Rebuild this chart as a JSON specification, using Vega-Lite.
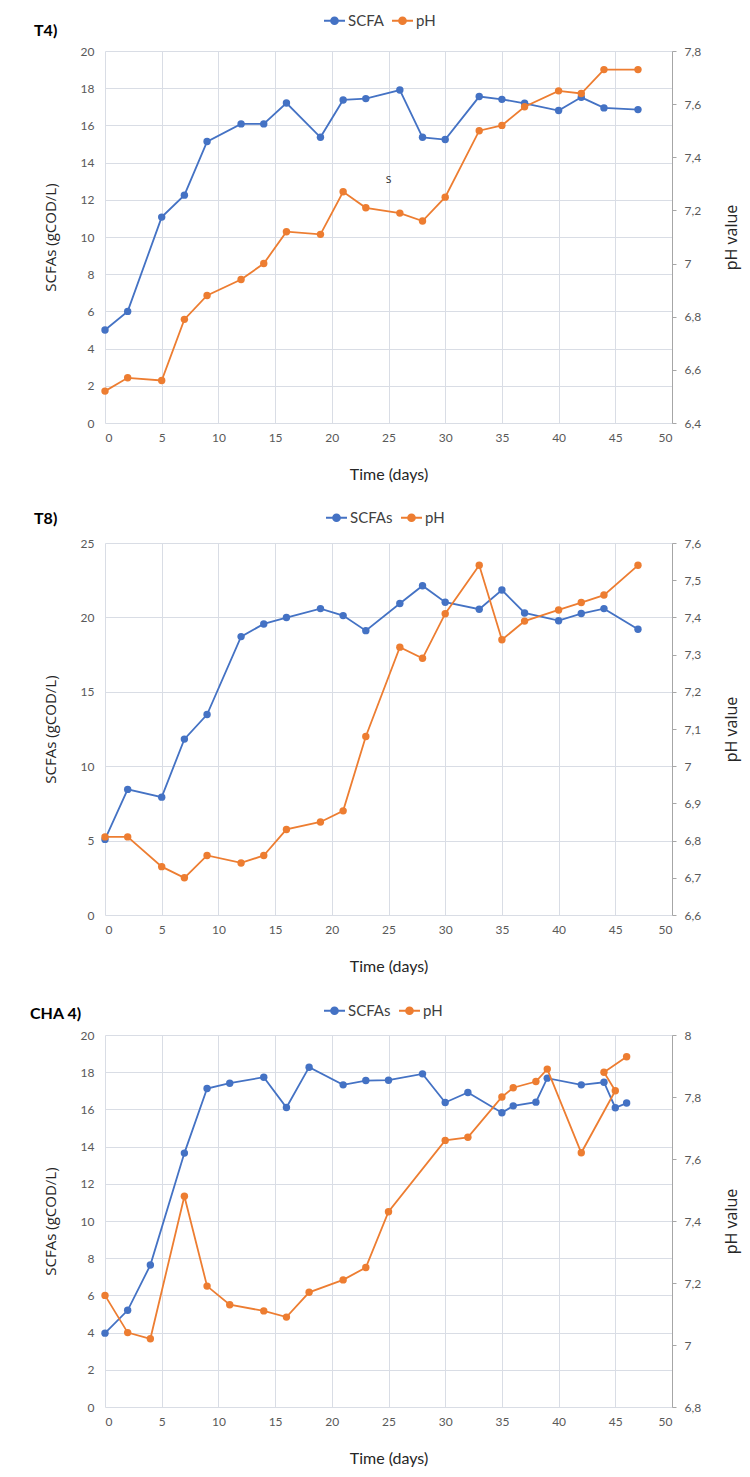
{
  "$schema": "https://vega.github.io/schema/vega-lite/v6.json",
  "background": "white",
  "padding": {"top": 9, "left": 30, "right": 10, "bottom": 10},
  "datasets": {
    "t4_scfa": [
      {"day": 0, "scfa": 5.0}, {"day": 2, "scfa": 6.0}, {"day": 5, "scfa": 11.07}, {"day": 7, "scfa": 12.25},
      {"day": 9, "scfa": 15.13}, {"day": 12, "scfa": 16.08}, {"day": 14, "scfa": 16.08}, {"day": 16, "scfa": 17.2},
      {"day": 19, "scfa": 15.36}, {"day": 21, "scfa": 17.37}, {"day": 23, "scfa": 17.44}, {"day": 26, "scfa": 17.9},
      {"day": 28, "scfa": 15.36}, {"day": 30, "scfa": 15.24}, {"day": 33, "scfa": 17.55}, {"day": 35, "scfa": 17.4},
      {"day": 37, "scfa": 17.19}, {"day": 40, "scfa": 16.8}, {"day": 42, "scfa": 17.51}, {"day": 44, "scfa": 16.94},
      {"day": 47, "scfa": 16.85}
    ],
    "t4_ph": [
      {"day": 0, "ph": 6.52}, {"day": 2, "ph": 6.57}, {"day": 5, "ph": 6.56}, {"day": 7, "ph": 6.79},
      {"day": 9, "ph": 6.88}, {"day": 12, "ph": 6.94}, {"day": 14, "ph": 7.0}, {"day": 16, "ph": 7.12},
      {"day": 19, "ph": 7.11}, {"day": 21, "ph": 7.27}, {"day": 23, "ph": 7.21}, {"day": 26, "ph": 7.19},
      {"day": 28, "ph": 7.16}, {"day": 30, "ph": 7.25}, {"day": 33, "ph": 7.5}, {"day": 35, "ph": 7.52},
      {"day": 37, "ph": 7.59}, {"day": 40, "ph": 7.65}, {"day": 42, "ph": 7.64}, {"day": 44, "ph": 7.73},
      {"day": 47, "ph": 7.73}
    ],
    "t4_note": [
      {"day": 25, "scfa": 13.1, "label": "s"}
    ],
    "t8_scfa": [
      {"day": 0, "scfa": 5.08}, {"day": 2, "scfa": 8.44}, {"day": 5, "scfa": 7.92}, {"day": 7, "scfa": 11.82},
      {"day": 9, "scfa": 13.47}, {"day": 12, "scfa": 18.71}, {"day": 14, "scfa": 19.56}, {"day": 16, "scfa": 19.99},
      {"day": 19, "scfa": 20.59}, {"day": 21, "scfa": 20.12}, {"day": 23, "scfa": 19.11}, {"day": 26, "scfa": 20.93},
      {"day": 28, "scfa": 22.13}, {"day": 30, "scfa": 21.02}, {"day": 33, "scfa": 20.55}, {"day": 35, "scfa": 21.84},
      {"day": 37, "scfa": 20.3}, {"day": 40, "scfa": 19.78}, {"day": 42, "scfa": 20.26}, {"day": 44, "scfa": 20.59},
      {"day": 47, "scfa": 19.2}
    ],
    "t8_ph": [
      {"day": 0, "ph": 6.81}, {"day": 2, "ph": 6.81}, {"day": 5, "ph": 6.73}, {"day": 7, "ph": 6.7},
      {"day": 9, "ph": 6.76}, {"day": 12, "ph": 6.74}, {"day": 14, "ph": 6.76}, {"day": 16, "ph": 6.83},
      {"day": 19, "ph": 6.85}, {"day": 21, "ph": 6.88}, {"day": 23, "ph": 7.08}, {"day": 26, "ph": 7.32},
      {"day": 28, "ph": 7.29}, {"day": 30, "ph": 7.41}, {"day": 33, "ph": 7.54}, {"day": 35, "ph": 7.34},
      {"day": 37, "ph": 7.39}, {"day": 40, "ph": 7.42}, {"day": 42, "ph": 7.44}, {"day": 44, "ph": 7.46},
      {"day": 47, "ph": 7.54}
    ],
    "cha4_scfa": [
      {"day": 0, "scfa": 3.97}, {"day": 2, "scfa": 5.2}, {"day": 4, "scfa": 7.63}, {"day": 7, "scfa": 13.65},
      {"day": 9, "scfa": 17.12}, {"day": 11, "scfa": 17.41}, {"day": 14, "scfa": 17.73}, {"day": 16, "scfa": 16.1},
      {"day": 18, "scfa": 18.27}, {"day": 21, "scfa": 17.32}, {"day": 23, "scfa": 17.55}, {"day": 25, "scfa": 17.57},
      {"day": 28, "scfa": 17.91}, {"day": 30, "scfa": 16.37}, {"day": 32, "scfa": 16.91}, {"day": 35, "scfa": 15.82},
      {"day": 36, "scfa": 16.19}, {"day": 38, "scfa": 16.39}, {"day": 39, "scfa": 17.68}, {"day": 42, "scfa": 17.32},
      {"day": 44, "scfa": 17.46}, {"day": 45, "scfa": 16.09}, {"day": 46, "scfa": 16.34}
    ],
    "cha4_ph": [
      {"day": 0, "ph": 7.16}, {"day": 2, "ph": 7.04}, {"day": 4, "ph": 7.02}, {"day": 7, "ph": 7.48},
      {"day": 9, "ph": 7.19}, {"day": 11, "ph": 7.13}, {"day": 14, "ph": 7.11}, {"day": 16, "ph": 7.09},
      {"day": 18, "ph": 7.17}, {"day": 21, "ph": 7.21}, {"day": 23, "ph": 7.25}, {"day": 25, "ph": 7.43},
      {"day": 30, "ph": 7.66}, {"day": 32, "ph": 7.67}, {"day": 35, "ph": 7.8}, {"day": 36, "ph": 7.83},
      {"day": 38, "ph": 7.85}, {"day": 39, "ph": 7.89}, {"day": 42, "ph": 7.62}, {"day": 45, "ph": 7.82},
      {"day": 44, "ph": 7.88}, {"day": 46, "ph": 7.93}
    ]
  },
  "config": {
    "view": {"stroke": null},
    "axis": {
      "labelFont": "Lato", "labelFontSize": 12, "labelColor": "#595959",
      "titleFont": "Lato", "titleColor": "#262626", "titleFontWeight": "normal",
      "gridColor": "#d9dde5", "gridWidth": 1
    },
    "axisBottom": {
      "domain": false, "ticks": false, "grid": true, "labelPadding": 9,
      "titleFontSize": 16, "titleY": 51, "titleBaseline": "middle"
    },
    "axisLeft": {
      "domain": false, "ticks": false, "grid": true, "labelPadding": 11,
      "titleFont": "Open Sans", "titleFontSize": 15, "titleAngle": 270,
      "titleX": -55, "titleY": 186, "titleAlign": "center", "titleBaseline": "middle"
    },
    "axisRight": {
      "domain": true, "domainColor": "#a6a6a6", "ticks": true, "tickColor": "#a6a6a6", "tickSize": 4,
      "grid": false, "labelPadding": 8,
      "titleFont": "Open Sans", "titleFontSize": 16, "titleAngle": 270,
      "titleX": 59, "titleY": 186, "titleAlign": "center", "titleBaseline": "middle"
    },
    "legend": {
      "orient": "none", "direction": "horizontal", "title": null,
      "symbolType": "M-1,0H1M-0.33,0A0.33,0.33 0 1,1 0.33,0A0.33,0.33 0 1,1 -0.33,0Z",
      "symbolSize": 441, "symbolStrokeWidth": 1.8,
      "labelFont": "Lato", "labelFontSize": 15, "labelColor": "#404040",
      "labelOffset": 2, "columnPadding": 4
    },
    "title": {
      "font": "Lato", "fontSize": 16, "fontWeight": "bold", "color": "#000000",
      "anchor": "start", "frame": "group", "baseline": "middle"
    }
  },
  "spacing": 120,
  "bounds": "flush",
  "resolve": {"scale": {"color": "independent"}, "legend": {"color": "independent"}},
  "vconcat": [
    {
      "width": 567, "height": 372,
      "title": {"text": "T4)", "dx": -71, "offset": -30},
      "resolve": {"scale": {"y": "independent"}},
      "layer": [
        {
          "data": {"name": "t4_scfa"},
          "mark": {"type": "line", "strokeWidth": 1.8, "point": {"filled": true, "size": 55}},
          "encoding": {
            "x": {"field": "day", "type": "quantitative", "scale": {"domain": [0, 50], "nice": false},
                  "axis": {"title": "Time (days)", "values": [0, 5, 10, 15, 20, 25, 30, 35, 40, 45, 50]}},
            "y": {"field": "scfa", "type": "quantitative", "scale": {"domain": [0, 20], "nice": false},
                  "axis": {"title": "SCFAs (gCOD/L)", "values": [0, 2, 4, 6, 8, 10, 12, 14, 16, 18, 20]}},
            "color": {"datum": "SCFA", "type": "nominal",
                      "scale": {"domain": ["SCFA", "pH"], "range": ["#4472C4", "#ED7D31"]},
                      "legend": {"legendX": 218, "legendY": -42,
                                 "encode": {"symbols": {"update": {"fill": {"signal": "datum.value === 'pH' ? '#ED7D31' : '#4472C4'"}}}}}}
          }
        },
        {
          "data": {"name": "t4_ph"},
          "mark": {"type": "line", "strokeWidth": 1.8, "point": {"filled": true, "size": 55}},
          "encoding": {
            "x": {"field": "day", "type": "quantitative"},
            "y": {"field": "ph", "type": "quantitative", "scale": {"domain": [6.4, 7.8], "nice": false, "zero": false},
                  "axis": {"orient": "right", "title": "pH value", "values": [6.4, 6.6, 6.8, 7.0, 7.2, 7.4, 7.6, 7.8],
                           "labelExpr": "replace(format(datum.value, '.2~f'), '.', ',')"}},
            "color": {"datum": "pH", "type": "nominal"}
          }
        },
        {
          "data": {"name": "t4_note"},
          "mark": {"type": "text", "font": "Open Sans", "fontSize": 12, "color": "#333333", "align": "center", "baseline": "middle"},
          "encoding": {
            "x": {"field": "day", "type": "quantitative"},
            "y": {"field": "scfa", "type": "quantitative", "scale": {"domain": [0, 20], "nice": false}, "axis": null},
            "text": {"field": "label"}
          }
        }
      ]
    },
    {
      "width": 567, "height": 372,
      "title": {"text": "T8)", "dx": -71, "offset": -21},
      "resolve": {"scale": {"y": "independent"}},
      "layer": [
        {
          "data": {"name": "t8_scfa"},
          "mark": {"type": "line", "strokeWidth": 1.8, "point": {"filled": true, "size": 55}},
          "encoding": {
            "x": {"field": "day", "type": "quantitative", "scale": {"domain": [0, 50], "nice": false},
                  "axis": {"title": "Time (days)", "values": [0, 5, 10, 15, 20, 25, 30, 35, 40, 45, 50]}},
            "y": {"field": "scfa", "type": "quantitative", "scale": {"domain": [0, 25], "nice": false},
                  "axis": {"title": "SCFAs (gCOD/L)", "values": [0, 5, 10, 15, 20, 25]}},
            "color": {"datum": "SCFAs", "type": "nominal",
                      "scale": {"domain": ["SCFAs", "pH"], "range": ["#4472C4", "#ED7D31"]},
                      "legend": {"legendX": 220, "legendY": -37,
                                 "encode": {"symbols": {"update": {"fill": {"signal": "datum.value === 'pH' ? '#ED7D31' : '#4472C4'"}}}}}}
          }
        },
        {
          "data": {"name": "t8_ph"},
          "mark": {"type": "line", "strokeWidth": 1.8, "point": {"filled": true, "size": 55}},
          "encoding": {
            "x": {"field": "day", "type": "quantitative"},
            "y": {"field": "ph", "type": "quantitative", "scale": {"domain": [6.6, 7.6], "nice": false, "zero": false},
                  "axis": {"orient": "right", "title": "pH value", "values": [6.6, 6.7, 6.8, 6.9, 7.0, 7.1, 7.2, 7.3, 7.4, 7.5, 7.6],
                           "labelExpr": "replace(format(datum.value, '.2~f'), '.', ',')"}},
            "color": {"datum": "pH", "type": "nominal"}
          }
        }
      ]
    },
    {
      "width": 567, "height": 372,
      "title": {"text": "CHA 4)", "dx": -75, "offset": -23},
      "resolve": {"scale": {"y": "independent"}},
      "layer": [
        {
          "data": {"name": "cha4_scfa"},
          "mark": {"type": "line", "strokeWidth": 1.8, "point": {"filled": true, "size": 55}},
          "encoding": {
            "x": {"field": "day", "type": "quantitative", "scale": {"domain": [0, 50], "nice": false},
                  "axis": {"title": "Time (days)", "values": [0, 5, 10, 15, 20, 25, 30, 35, 40, 45, 50]}},
            "y": {"field": "scfa", "type": "quantitative", "scale": {"domain": [0, 20], "nice": false},
                  "axis": {"title": "SCFAs (gCOD/L)", "values": [0, 2, 4, 6, 8, 10, 12, 14, 16, 18, 20]}},
            "order": {"value": null},
            "color": {"datum": "SCFAs", "type": "nominal",
                      "scale": {"domain": ["SCFAs", "pH"], "range": ["#4472C4", "#ED7D31"]},
                      "legend": {"legendX": 218, "legendY": -36,
                                 "encode": {"symbols": {"update": {"fill": {"signal": "datum.value === 'pH' ? '#ED7D31' : '#4472C4'"}}}}}}
          }
        },
        {
          "data": {"name": "cha4_ph"},
          "mark": {"type": "line", "strokeWidth": 1.8, "point": {"filled": true, "size": 55}},
          "encoding": {
            "x": {"field": "day", "type": "quantitative"},
            "y": {"field": "ph", "type": "quantitative", "scale": {"domain": [6.8, 8.0], "nice": false, "zero": false},
                  "axis": {"orient": "right", "title": "pH value", "values": [6.8, 7.0, 7.2, 7.4, 7.6, 7.8, 8.0],
                           "labelExpr": "replace(format(datum.value, '.2~f'), '.', ',')"}},
            "order": {"value": null},
            "color": {"datum": "pH", "type": "nominal"}
          }
        }
      ]
    }
  ]
}
